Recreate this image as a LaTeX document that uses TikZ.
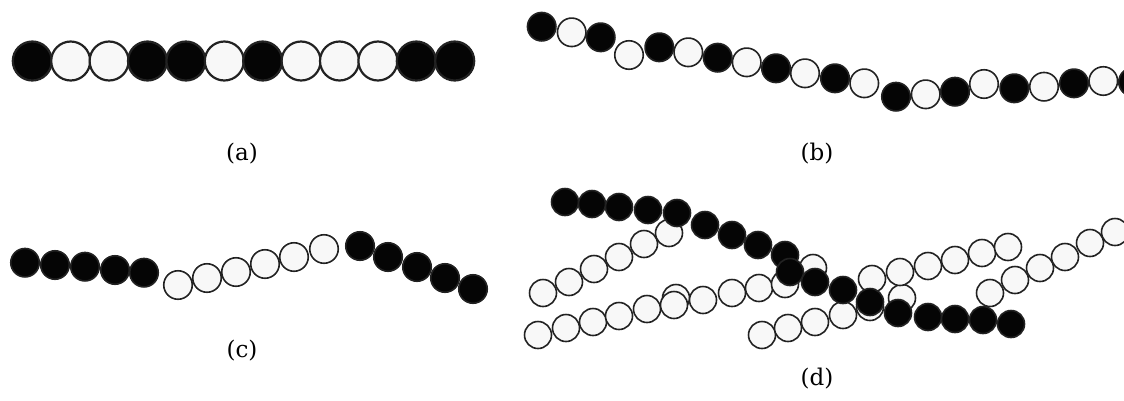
\documentclass[tikz,border=0pt]{standalone}
\usepackage{fontspec}
\setmainfont{DejaVu Serif}
\usepackage{tikz}
\definecolor{beadblack}{HTML}{050505}
\definecolor{beadwhite}{HTML}{F8F8F8}
\definecolor{beadedge}{HTML}{222222}

\begin{document}
\begin{tikzpicture}[
  x=1pt, y=-1pt,
  bead/.style={circle, inner sep=0pt, draw=beadedge, line width=1.6pt},
  bigbead/.style={bead, minimum size=39pt, line width=2.2pt},
  midbead/.style={bead, minimum size=28.5pt},
  smallbead/.style={bead, minimum size=27pt},
  lbl/.style={font=\fontsize{23}{27}\selectfont, inner sep=0pt},
]
  \clip (0,0) rectangle (1124,400);

  % (a) straight chain
  \foreach \f [count=\i] in {beadblack,beadwhite,beadwhite,beadblack,beadblack,beadwhite,
                             beadblack,beadwhite,beadwhite,beadwhite,beadblack,beadblack}
    \node[bigbead, fill=\f] (a\i) at ({32.3+38.4*(\i-1)},61) {};

  % (b) alternating chain
  \foreach \x/\y/\f [count=\i] in {541.7/26.7/beadblack, 571.7/32.3/beadwhite, 600.7/37.3/beadblack,
      629/55/beadwhite, 659.3/47.3/beadblack, 688.3/52.3/beadwhite, 717.7/57.7/beadblack,
      746.7/62.3/beadwhite, 776/68.3/beadblack, 805/73.3/beadwhite, 835/78.3/beadblack,
      864.3/83.3/beadwhite, 896/96.7/beadblack, 925.7/94.3/beadwhite, 955/91.7/beadblack,
      984/84/beadwhite, 1014.3/88.3/beadblack, 1044/86.7/beadwhite, 1074/83.3/beadblack,
      1103.3/81/beadwhite, 1133/82/beadblack}
    \node[midbead, fill=\f] (b\i) at (\x,\y) {};

  % (c) block chain
  \foreach \x/\y/\f [count=\i] in {25/262.7/beadblack, 55/265/beadblack, 85/266.7/beadblack,
      115/270/beadblack, 144/272.7/beadblack, 178/285/beadwhite, 207/278/beadwhite,
      236/272/beadwhite, 265/264/beadwhite, 294/257/beadwhite, 324/249/beadwhite,
      360/246/beadblack, 388/257/beadblack, 417/267/beadblack, 445/278/beadblack,
      473/289/beadblack}
    \node[midbead, fill=\f] (c\i) at (\x,\y) {};

  % (d) white chains first, black chain on top
  \foreach \x/\y [count=\i] in {543/293, 569/282, 594/269, 619/257, 644/244, 669/233}
    \node[smallbead, fill=beadwhite] (dA\i) at (\x,\y) {};
  \foreach \x/\y [count=\i] in {538/335, 566/328, 593/322, 619/316, 647/309, 676/298,
      674/305, 703/300, 732/293, 759/288, 813/268, 785/284}
    \node[smallbead, fill=beadwhite] (dB\i) at (\x,\y) {};
  \foreach \x/\y [count=\i] in {762/335, 788/328, 815/322, 843/315, 870/307, 902/298}
    \node[smallbead, fill=beadwhite] (dC\i) at (\x,\y) {};
  \foreach \x/\y [count=\i] in {872/279, 900/272, 928/266, 955/260, 982/253, 1008/247}
    \node[smallbead, fill=beadwhite] (dD\i) at (\x,\y) {};
  \foreach \x/\y [count=\i] in {990/293, 1015/280, 1040/268, 1065/257, 1090/243, 1115/232}
    \node[smallbead, fill=beadwhite] (dE\i) at (\x,\y) {};
  \foreach \x/\y [count=\i] in {565/202, 592/204, 619/207, 648/210, 677/213, 705/225,
      732/235, 758/245, 785/255, 790/272, 815/282, 843/290, 870/302, 898/313,
      928/317, 955/319, 983/320, 1011/324}
    \node[smallbead, fill=beadblack] (dK\i) at (\x,\y) {};

  \node[lbl] (lbla) at (242,154) {(a)};
  \node[lbl] (lblb) at (817,154) {(b)};
  \node[lbl] (lblc) at (242,351) {(c)};
  \node[lbl] (lbld) at (817,379) {(d)};
\end{tikzpicture}
\end{document}
